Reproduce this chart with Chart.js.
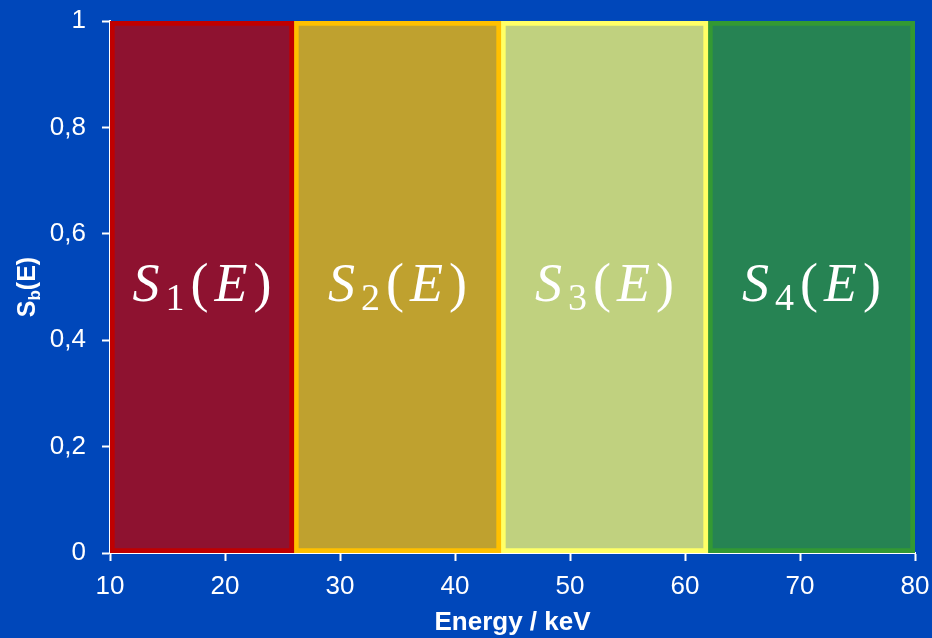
<!DOCTYPE html>
<html>
<head>
<meta charset="utf-8">
<title>Sb(E) energy bands</title>
<script src="https://cdn.jsdelivr.net/npm/chart.js"></script>
<style>
  html, body { margin: 0; padding: 0; background: #0047ba; }
  #wrap { width: 932px; height: 638px; }
</style>
</head>
<body>
<div id="wrap"><canvas id="bandChart"></canvas></div>
<script>
// energy windows in keV
const bandStart = [10, 26, 44, 62];
const bandEnd = [26, 44, 62, 80];
const bandSub = ['1', '2', '3', '4'];
const xTickValues = [10, 20, 30, 40, 50, 60, 70, 80];
const yTickValues = [0, 0.2, 0.4, 0.6, 0.8, 1];

const bandFill = ['#8e1230', '#bfa12f', '#c0d17f', '#268353'];
const bandBorder = ['#c00000', '#ffc000', '#ffff66', '#339933'];
const BG = '#0047ba';
const SANS = '"Liberation Sans", Arial, sans-serif';
const SERIF = '"Liberation Serif", "DejaVu Serif", serif';

const datasets = bandStart.map((s, i) => ({
  label: 'S' + bandSub[i] + '(E)',
  data: [[s, bandEnd[i]]],
  backgroundColor: bandFill[i],
  borderColor: bandBorder[i],
  borderWidth: 5,
  borderSkipped: false,
  categoryPercentage: 1,
  barPercentage: 1,
  stack: 'all',
  yAxisID: 'band'
}));

const bgPlugin = {
  id: 'bg',
  beforeDraw(chart) {
    const c = chart.ctx;
    c.save();
    c.fillStyle = BG;
    c.fillRect(0, 0, chart.width, chart.height);
    c.restore();
  }
};

// S_n(E) written in each band
const bandLabels = {
  id: 'bandLabels',
  afterDatasetsDraw(chart) {
    const c = chart.ctx;
    const area = chart.chartArea;
    const size = 54;
    const gap = 6;
    c.save();
    c.fillStyle = '#fff';
    c.textBaseline = 'alphabetic';
    chart.data.datasets.forEach((ds, i) => {
      const bar = chart.getDatasetMeta(i).data[0];
      const cx = (bar.x + bar.base) / 2;
      const baseY = (area.top + area.bottom) / 2 + size * 0.26;
      const parts = [
        { t: 'S', f: 'italic ' + size + 'px ' + SERIF, dy: 0 },
        { t: bandSub[i], f: Math.round(size * 0.7) + 'px ' + SERIF, dy: size * 0.16 },
        { t: '(', f: size + 'px ' + SERIF, dy: 0 },
        { t: 'E', f: 'italic ' + size + 'px ' + SERIF, dy: 0 },
        { t: ')', f: size + 'px ' + SERIF, dy: 0 }
      ];
      let total = 0;
      parts.forEach(p => { c.font = p.f; p.w = c.measureText(p.t).width; total += p.w; });
      total += gap * (parts.length - 1);
      let x = cx - total / 2;
      parts.forEach(p => {
        c.font = p.f;
        c.textAlign = 'left';
        c.fillText(p.t, x, baseY + p.dy);
        x += p.w + gap;
      });
    });
    c.restore();
  }
};

// y title with subscript: S_b(E)
const yTitle = {
  id: 'yTitle',
  afterDraw(chart) {
    const c = chart.ctx;
    const area = chart.chartArea;
    const parts = [
      { t: 'S', f: 'bold 25px ' + SANS, dy: 0 },
      { t: 'b', f: 'bold 17px ' + SANS, dy: 5 },
      { t: '(E)', f: 'bold 25px ' + SANS, dy: 0 }
    ];
    c.save();
    c.translate(35, (area.top + area.bottom) / 2);
    c.rotate(-Math.PI / 2);
    c.fillStyle = '#fff';
    c.textBaseline = 'alphabetic';
    c.textAlign = 'left';
    let total = 0;
    parts.forEach(p => { c.font = p.f; p.w = c.measureText(p.t).width; total += p.w; });
    let x = -total / 2;
    parts.forEach(p => { c.font = p.f; c.fillText(p.t, x, p.dy); x += p.w; });
    c.restore();
  }
};

const axisGrid = { display: true, drawOnChartArea: false, drawTicks: true, tickLength: 8, color: '#fff', tickWidth: 2, offset: false };

new Chart(document.getElementById('bandChart'), {
  type: 'bar',
  data: { labels: ['band'], datasets: datasets },
  options: {
    indexAxis: 'y',
    responsive: true,
    maintainAspectRatio: false,
    animation: false,
    layout: { padding: { top: 21, right: 17, bottom: 0, left: 0 } },
    plugins: { legend: { display: false }, tooltip: { enabled: false } },
    scales: {
      x: {
        type: 'linear',
        position: 'bottom',
        min: 10,
        max: 80,
        offset: false,
        stacked: false,
        afterBuildTicks: s => { s.ticks = xTickValues.map(v => ({ value: v })); },
        afterFit: s => { s.height = 85; s.paddingLeft = 0; s.paddingRight = 0; },
        grid: axisGrid,
        border: { display: true, color: '#fff', width: 2 },
        ticks: { color: '#fff', font: { family: SANS, size: 26 }, padding: 10, maxRotation: 0, autoSkip: false },
        title: {
          display: true, text: 'Energy / keV', color: '#fff',
          font: { family: SANS, size: 26, weight: 'bold' }, padding: { top: 0, bottom: 0 }
        }
      },
      band: {
        type: 'category',
        axis: 'y',
        position: 'left',
        labels: ['band'],
        offset: true,
        stacked: true,
        display: false
      },
      y: {
        type: 'linear',
        position: 'left',
        min: 0,
        max: 1,
        offset: false,
        afterBuildTicks: s => { s.ticks = yTickValues.map(v => ({ value: v })); },
        afterFit: s => { s.width = 110; s.paddingTop = 0; s.paddingBottom = 0; },
        grid: axisGrid,
        border: { display: true, color: '#fff', width: 2 },
        ticks: {
          color: '#fff', font: { family: SANS, size: 26 }, padding: 16,
          callback: v => String(v).replace('.', ',')
        }
      }
    }
  },
  plugins: [bgPlugin, bandLabels, yTitle]
});
</script>
</body>
</html>
